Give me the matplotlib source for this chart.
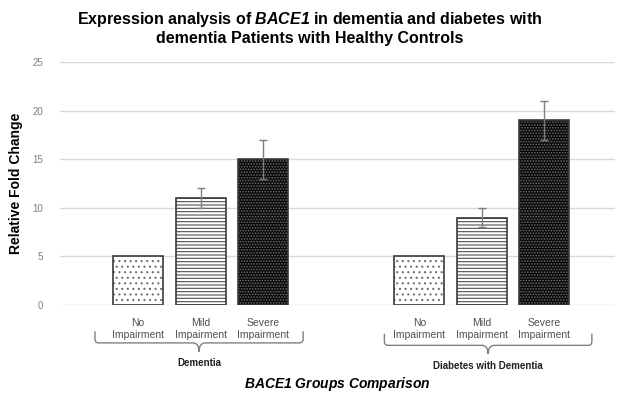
#! /usr/bin/env python3

"""Bar chart of BACE1 relative fold change in dementia groups."""

import matplotlib
matplotlib.use('Agg')
import matplotlib.pyplot as plt
from matplotlib.path import Path
from matplotlib.patches import PathPatch

plt.rcParams['font.family'] = ['Liberation Sans', 'DejaVu Sans']
# mathtext is only used for the gene name, which is bold italic
plt.rcParams['mathtext.fontset'] = 'custom'
plt.rcParams['mathtext.it'] = 'Liberation Sans:bold:italic'
plt.rcParams['mathtext.rm'] = 'Liberation Sans:bold:italic'
plt.rcParams['hatch.linewidth'] = 0.8

categories = ['No\nImpairment', 'Mild\nImpairment', 'Severe\nImpairment'] * 2
positions = [0, 1, 2, 4.5, 5.5, 6.5]
values = [5, 11, 15, 5, 9, 19]
errors = [0, 1, 2, 0, 1, 2]
groups = ['Dementia', 'Diabetes with Dementia']
group_spans = [(-0.69, 2.64), (3.94, 7.26)]


def main():
    """Plot and save the figure."""
    fig = plt.figure(figsize=(6.2, 3.97), dpi=100)
    ax = fig.add_axes([60 / 620, 92 / 397, 555 / 620, 243 / 397])

    draw_bars(ax)

    ax.set_xlim(-1.25, 7.63)
    ax.set_ylim(0, 25)
    ax.set_yticks([0, 5, 10, 15, 20, 25])
    ax.yaxis.grid(True, color='#d9d9d9', linewidth=1)
    ax.set_axisbelow(True)
    for side in ['top', 'right', 'left', 'bottom']:
        ax.spines[side].set_visible(False)
    ax.tick_params(axis='y', length=0, labelsize=7, labelcolor='#7f7f7f',
                   pad=12)
    ax.set_xticks(positions)
    ax.set_xticklabels(categories, fontsize=7.5, color='#505050',
                       linespacing=1.3)
    ax.tick_params(axis='x', length=0, pad=9)

    draw_braces(ax)

    ax.set_ylabel('Relative Fold Change', fontsize=10, fontweight='bold',
                  labelpad=7)
    ax.text(0.5, -0.325, r'$\mathrm{BACE1}$ Groups Comparison',
            transform=ax.transAxes, ha='center', va='center',
            fontsize=10, fontweight='bold', fontstyle='italic')
    fig.suptitle('Expression analysis of $\\mathrm{BACE1}$ in dementia and '
                 'diabetes with\ndementia Patients with Healthy Controls',
                 fontsize=11.5, fontweight='bold', y=0.975, linespacing=1.15)

    fig.savefig('out.png', dpi=100)


def draw_bars(ax):
    """Draw the hatched bars with error bars."""
    styles = [
        dict(color='white', hatch='...', hatch_col='#707070'),
        dict(color='white', hatch='-----', hatch_col='#505050'),
        dict(color='#080808', hatch='......', hatch_col='#6e6e6e'),
    ] * 2
    for x, v, e, st in zip(positions, values, errors, styles):
        ax.bar(x, v, width=0.8, color=st['color'], hatch=st['hatch'],
               edgecolor=st['hatch_col'], linewidth=0, zorder=2)
        ax.bar(x, v, width=0.8, fill=False, edgecolor='#3a3a3a',
               linewidth=1.2, zorder=3)
        if e:
            ax.errorbar(x, v, yerr=e, color='#7f7f7f', capsize=3,
                        elinewidth=1, capthick=1, zorder=4)


def draw_braces(ax):
    """Draw curly braces under each group with its name."""
    r = 0.06
    for i, (name, (x0, x1)) in enumerate(zip(groups, group_spans)):
        dy = -0.25 * i
        top, mid, tip = -2.7 + dy, -3.9 + dy, -4.8 + dy
        xm = (x0 + x1) / 2
        verts = [(x0, top), (x0, mid + 0.4), (x0, mid), (x0 + r, mid),
                 (xm - 0.1, mid), (xm, mid), (xm, tip),
                 (xm, tip), (xm, mid), (xm + 0.1, mid),
                 (x1 - r, mid), (x1, mid), (x1, mid + 0.4), (x1, top)]
        codes = [Path.MOVETO, Path.LINETO, Path.CURVE3, Path.CURVE3,
                 Path.LINETO, Path.CURVE3, Path.CURVE3,
                 Path.MOVETO, Path.CURVE3, Path.CURVE3,
                 Path.LINETO, Path.CURVE3, Path.CURVE3, Path.LINETO]
        ax.add_patch(PathPatch(Path(verts, codes), fill=False,
                               edgecolor='#808080', linewidth=1,
                               clip_on=False))
        ax.text(xm, tip - 0.7, name, ha='center', va='top', fontsize=7,
                fontweight='bold', color='#202020')


if __name__ == "__main__":
    main()
